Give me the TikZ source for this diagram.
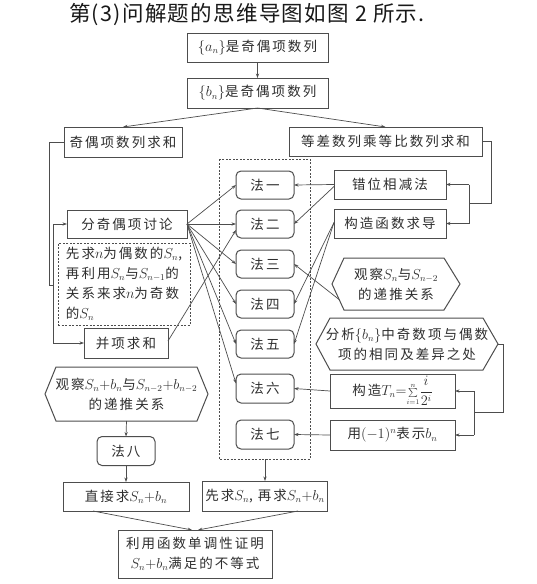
\documentclass[tikz,border=0pt]{standalone}
\usepackage{amsmath}
\usepackage{fontspec}
\newfontfamily\cjk[LetterSpace=15]{Noto Sans CJK SC}
\newfontfamily\cjktitle[LetterSpace=6]{Noto Sans CJK SC}
\usetikzlibrary{arrows.meta,calc}
\definecolor{ln}{HTML}{4D4D4D}
\definecolor{tx}{HTML}{2E2E2E}
\tikzset{
  txt/.style={text=tx, font=\cjk\fontsize{13.5}{20}\selectfont, align=center, inner sep=1pt, outer sep=0pt},
  bx/.style={txt, draw=ln, line width=1pt},
  rbx/.style={bx, rounded corners=5pt, minimum width=58pt, minimum height=28pt},
  hxline/.style={draw=ln, line width=1pt},
  conn/.style={draw=ln, line width=0.7pt},
  arr/.style={conn, -{Stealth[length=4.5pt,width=3.2pt]}},
  dashbox/.style={draw=ln, line width=0.9pt, dash pattern=on 2pt off 1.5pt},
}
\newcommand\myhex[3]{\draw[hxline] (#1.west) -- ([xshift=#2pt]#1.north west) -- ([xshift=-#3pt]#1.north east) -- (#1.east) -- ([xshift=-#3pt]#1.south east) -- ([xshift=#2pt]#1.south west) -- cycle;}
\begin{document}
\begin{tikzpicture}[x=1pt,y=-1pt]
\useasboundingbox[fill=white] (0,0) rectangle (536,584);
% title
\node[anchor=west, text=black!90, font=\cjktitle\fontsize{21.5}{24}\selectfont, inner sep=0pt] (title) at (69,15) {第(3)问解题的思维导图如图 2 所示.};
% top boxes
\node[bx, minimum width=141pt, minimum height=29pt] (A) at (257.5,47.5) {$\{a_n\}$是奇偶项数列};
\node[bx, minimum width=141pt, minimum height=30pt] (B) at (257.5,93) {$\{b_n\}$是奇偶项数列};
\node[bx, minimum width=118pt, minimum height=30pt] (C) at (123,142) {奇偶项数列求和};
\node[bx, minimum width=193pt, minimum height=29pt] (D) at (385.5,141.5) {等差数列乘等比数列求和};
% left column
\node[bx, minimum width=120pt, minimum height=28pt] (E) at (127,224) {分奇偶项讨论};
\node[txt, dashbox, minimum width=132pt, minimum height=82pt, align=left, inner sep=4pt] (F) at (124,284) {先求$n$为偶数的$S_n$,\\再利用$S_n$与$S_{n-1}$的\\关系来求$n$为奇数\\的$S_n$};
\node[bx, minimum width=84pt, minimum height=30pt] (G) at (126,343) {并项求和};
% big dashed box
\draw[conn, dash pattern=on 2pt off 1.5pt] (219,159) rectangle (310,459);
\coordinate (dbB) at (265,459);
% method boxes
\node[rbx] (f1) at (265,185) {法一};
\node[rbx] (f2) at (265,224) {法二};
\node[rbx] (f3) at (265,264) {法三};
\node[rbx] (f4) at (265,304) {法四};
\node[rbx] (f5) at (265,344) {法五};
\node[rbx, minimum height=29pt] (f6) at (265,388.5) {法六};
\node[rbx, minimum height=29pt] (f7) at (265,434.5) {法七};
% right column
\node[bx, minimum width=112pt, minimum height=29pt] (R1) at (390,184.5) {错位相减法};
\node[bx, minimum width=112pt, minimum height=29pt] (R2) at (390,223.5) {构造函数求导};
\node[txt, minimum width=128pt, minimum height=52pt] (H1) at (396,284) {观察$S_n$与$S_{n-2}$\\的递推关系};
\myhex{H1}{12}{16}
\node[txt, minimum width=182pt, minimum height=52pt] (H2) at (407,344) {分析$\{b_n\}$中奇数项与偶数\\项的相同及差异之处};
\myhex{H2}{14}{15}
\node[bx, minimum width=125pt, minimum height=34pt] (R3) at (392.5,391) {构造$T_n{=}{\scriptstyle\sum\limits_{i=1}^{n}}\dfrac{i}{2^i}$};
\node[bx, minimum width=125pt, minimum height=30pt] (R4) at (392.5,435) {用$(-1)^n$表示$b_n$};
% bottom left
\node[txt, minimum width=163pt, minimum height=54pt] (H3) at (126.5,394) {观察$S_n{+}b_n$与$S_{n-2}{+}b_{n-2}$\\的递推关系};
\myhex{H3}{11}{11}
\node[rbx, minimum height=29pt] (f8) at (126,451) {法八};
\node[bx, minimum width=126pt, minimum height=29pt] (P1) at (126,496.5) {直接求$S_n{+}b_n$};
\node[bx, minimum width=125pt, minimum height=30pt] (P2) at (265,496) {先求$S_n$, 再求$S_n{+}b_n$};
\node[bx, minimum width=154pt, minimum height=48pt] (Z) at (195,554) {利用函数单调性证明\\$S_n{+}b_n$满足的不等式};
% connectors top
\draw[arr] (A) -- (B);
\draw[arr] (B.south) -- (C.north);
\draw[arr] (B.south) -- (D.north);
% C bracket
\coordinate (c1) at (49,142);
\coordinate (c2) at (49,285);
\coordinate (c3) at (53,285);
\coordinate (cE) at (53,224);
\coordinate (cG) at (53,343);
\draw[conn] (C.west) -- (c1) -- (c2) -- (c3);
\draw[conn] (cE) -- (cG);
\draw[arr] (cE) -- (E.west);
\draw[arr] (cG) -- (G.west);
% D bracket
\coordinate (d1) at (491,141.5);
\coordinate (d2) at (491,203);
\coordinate (d3) at (469,203);
\coordinate (dR1) at (469,184.5);
\coordinate (dR2) at (469,223.5);
\draw[conn] (D.east) -- (d1) -- (d2) -- (d3);
\draw[conn] (dR1) -- (dR2);
\draw[arr] (dR1) -- (R1.east);
\draw[arr] (dR2) -- (R2.east);
% H2 bracket
\coordinate (h1) at (503,344);
\coordinate (h2) at (503,412);
\coordinate (h3) at (474,412);
\coordinate (hR3) at (474,391);
\coordinate (hR4) at (474,435);
\draw[conn] (H2.east) -- (h1) -- (h2) -- (h3);
\draw[conn] (hR3) -- (hR4);
\draw[arr] (hR3) -- (R3.east);
\draw[arr] (hR4) -- (R4.east);
% fan from E
\draw[arr] (E.east) -- (f1.west);
\draw[arr] (E.east) -- (f2.west);
\draw[arr] (E.east) -- (f3.west);
\draw[arr] (E.east) -- (f4.west);
\draw[arr] (E.east) -- (f5.west);
\draw[arr] (E.east) -- ([yshift=5pt]f6.west);
\draw[arr] ([yshift=2pt]G.east) -- ([yshift=-6pt]f2.west);
% from right
\draw[arr] (R1.west) -- (f1.east);
\draw[arr] ([yshift=-2pt]R1.west) -- (f2.east);
\draw[arr] ([yshift=1pt]R2.west) -- (f4.east);
\draw[arr] ([yshift=1pt]R2.west) -- (f5.east);
\coordinate (H1e) at ($(H1.west)!0.6!([xshift=12pt]H1.south west)$);
\draw[arr] (H1e) -- (f3.east);
\draw[arr] (R3.west) -- (f6.east);
\draw[arr] (R4.west) -- (f7.east);
% bottom
\draw[arr] (H3.south) -- (f8.north);
\draw[arr] (f8.south) -- (P1.north);
\draw[arr] (dbB) -- (P2.north);
\coordinate (P1b) at (93,511);
\coordinate (P2b) at (298,511);
\draw[arr] (P1b) -- ([xshift=-3pt]Z.north);
\draw[arr] (P2b) -- ([xshift=3pt]Z.north);
\end{tikzpicture}
\end{document}
